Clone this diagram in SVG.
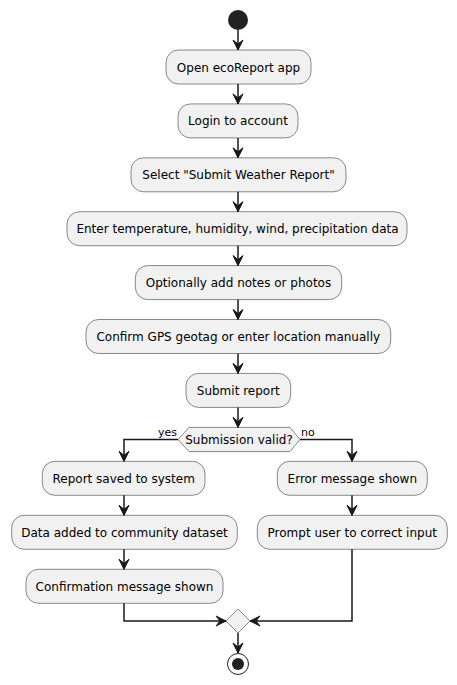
<svg xmlns="http://www.w3.org/2000/svg" width="457" height="685" viewBox="0 0 457 685">
<defs>
<style>
.box{fill:#F1F1F1;stroke:#181818;stroke-width:0.5}
.t{font-family:"DejaVu Sans",sans-serif;font-size:12px;fill:#000;text-anchor:middle}
.lbl{font-family:"DejaVu Sans",sans-serif;font-size:11px;fill:#000}
.ln{fill:none;stroke:#181818;stroke-width:1.5}
.ah{fill:#181818;stroke:#181818;stroke-width:1}
</style>
</defs>
<rect width="457" height="685" fill="#FFFFFF"/>
<g id="start"><circle cx="238" cy="20" r="10" fill="#222222"/></g>
<g id="n1"><rect class="box" x="166" y="50" width="145" height="34" rx="12.5"/><text class="t" x="238.5" y="71.5">Open ecoReport app</text></g>
<g id="n2"><rect class="box" x="178" y="103.9" width="120" height="34" rx="12.5"/><text class="t" x="238" y="125.4">Login to account</text></g>
<g id="n3"><rect class="box" x="131" y="157.8" width="215" height="34" rx="12.5"/><text class="t" x="238.5" y="179.3">Select "Submit Weather Report"</text></g>
<g id="n4"><rect class="box" x="67" y="211.7" width="340" height="34" rx="12.5"/><text class="t" x="237.5" y="233.2">Enter temperature, humidity, wind, precipitation data</text></g>
<g id="n5"><rect class="box" x="135.3" y="265.6" width="206.4" height="34" rx="12.5"/><text class="t" x="238.5" y="287.1">Optionally add notes or photos</text></g>
<g id="n6"><rect class="box" x="86" y="319.5" width="304.7" height="34" rx="12.5"/><text class="t" x="238.3" y="341">Confirm GPS geotag or enter location manually</text></g>
<g id="n7"><rect class="box" x="186" y="373.4" width="104.7" height="34" rx="12.5"/><text class="t" x="238.3" y="394.9">Submit report</text></g>
<g id="d1"><polygon class="box" points="178,439.5 189,427.4 290,427.4 300,439.5 290,451.6 189,451.6"/><text class="t" x="239" y="443.8">Submission valid?</text></g>
<g id="n8"><rect class="box" x="42.3" y="461.3" width="162.7" height="34" rx="12.5"/><text class="t" x="123.7" y="482.8">Report saved to system</text></g>
<g id="n9"><rect class="box" x="11.7" y="515.3" width="225.6" height="34" rx="12.5"/><text class="t" x="124.5" y="536.8">Data added to community dataset</text></g>
<g id="n10"><rect class="box" x="26" y="569.3" width="197" height="34" rx="12.5"/><text class="t" x="124.5" y="590.8">Confirmation message shown</text></g>
<g id="n11"><rect class="box" x="277.3" y="461.3" width="150" height="34" rx="12.5"/><text class="t" x="352.3" y="482.8">Error message shown</text></g>
<g id="n12"><rect class="box" x="257.3" y="515.3" width="190" height="34" rx="12.5"/><text class="t" x="352.3" y="536.8">Prompt user to correct input</text></g>
<g id="merge"><polygon class="box" points="238,609 250,621 238,633 226,621"/></g>
<g id="end"><circle cx="238" cy="664" r="10.5" fill="none" stroke="#222222" stroke-width="1"/><circle cx="238" cy="664" r="6" fill="#222222"/></g>
<g id="connectors">
<path class="ln" d="M238,30 V50"/>
<polygon class="ah" points="233,40 238,50 243,40 238,44"/>
<path class="ln" d="M238,84 V103.9"/>
<polygon class="ah" points="233,93.9 238,103.9 243,93.9 238,97.9"/>
<path class="ln" d="M238,137.9 V157.8"/>
<polygon class="ah" points="233,147.8 238,157.8 243,147.8 238,151.8"/>
<path class="ln" d="M238,191.8 V211.7"/>
<polygon class="ah" points="233,201.7 238,211.7 243,201.7 238,205.7"/>
<path class="ln" d="M238,245.7 V265.6"/>
<polygon class="ah" points="233,255.6 238,265.6 243,255.6 238,259.6"/>
<path class="ln" d="M238,299.6 V319.5"/>
<polygon class="ah" points="233,309.5 238,319.5 243,309.5 238,313.5"/>
<path class="ln" d="M238,353.5 V373.4"/>
<polygon class="ah" points="233,363.4 238,373.4 243,363.4 238,367.4"/>
<path class="ln" d="M238,407.4 V427.4"/>
<polygon class="ah" points="233,417.4 238,427.4 243,417.4 238,421.4"/>
<path class="ln" d="M178,439.5 H124 V461.3"/>
<polygon class="ah" points="119,451.3 124,461.3 129,451.3 124,455.3"/>
<text class="lbl" x="158" y="436">yes</text>
<path class="ln" d="M300,439.5 H352 V461.3"/>
<polygon class="ah" points="347,451.3 352,461.3 357,451.3 352,455.3"/>
<text class="lbl" x="301" y="436">no</text>
<path class="ln" d="M124,495.3 V515.3"/>
<polygon class="ah" points="119,505.3 124,515.3 129,505.3 124,509.3"/>
<path class="ln" d="M124,549.3 V569.3"/>
<polygon class="ah" points="119,559.3 124,569.3 129,559.3 124,563.3"/>
<path class="ln" d="M352,495.3 V515.3"/>
<polygon class="ah" points="347,505.3 352,515.3 357,505.3 352,509.3"/>
<path class="ln" d="M124,603.3 V621 H226"/>
<polygon class="ah" points="216,616 226,621 216,626 220,621"/>
<path class="ln" d="M352,549.3 V621 H250"/>
<polygon class="ah" points="260,616 250,621 260,626 256,621"/>
<path class="ln" d="M238,633 V653"/>
<polygon class="ah" points="233,643 238,653 243,643 238,647"/>
</g>
</svg>
